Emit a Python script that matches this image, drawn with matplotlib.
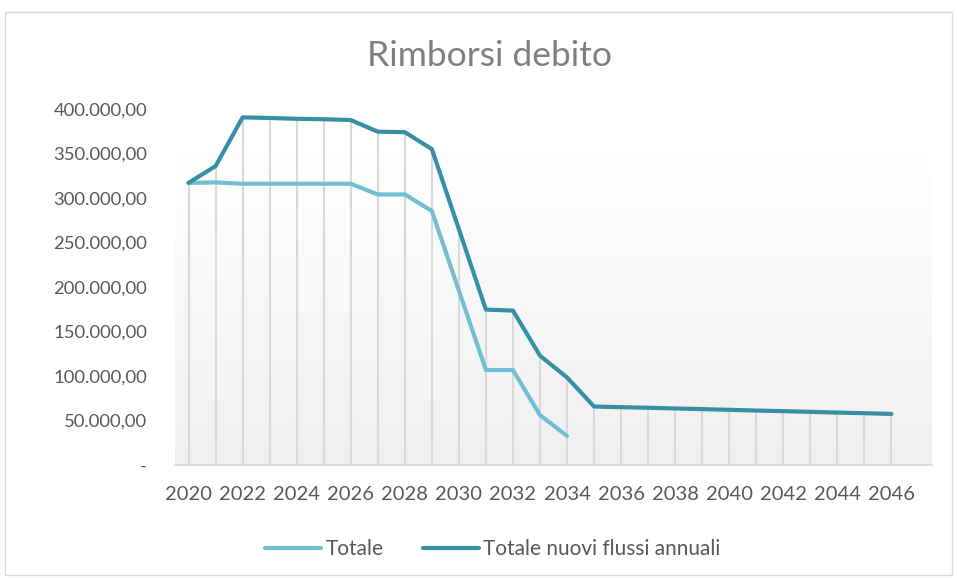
import numpy as np
import matplotlib
matplotlib.use("Agg")
import matplotlib.pyplot as plt
from matplotlib.ticker import FuncFormatter
from matplotlib.patches import Rectangle

# dati
anni = list(range(2020, 2047))
totale = [317000, 317500, 316000, 316000, 316000, 316000, 316000, 304000, 304000,
          285500, 196000, 106700, 106700, 56000, 32700]
nuovi_flussi = [317000, 335800, 390600, 389900, 389000, 388500, 387600, 374500, 374000,
                355000, 265000, 174600, 173500, 122800, 98400, 65700, 65000, 64300,
                63500, 62800, 62000, 61200, 60500, 59700, 58900, 58200, 57400]

col_totale = "#72BFD3"
col_nuovi = "#378FA6"
col_testo = "#595959"

plt.rcParams["font.family"] = ["Lato", "DejaVu Sans"]

fig = plt.figure(figsize=(9.57, 5.78), dpi=100)
fig.add_artist(Rectangle((5 / 957, 3 / 578), 947 / 957, 563 / 578, transform=fig.transFigure,
                         fill=False, edgecolor="#D9D9D9", linewidth=1))
ax = fig.add_axes([175 / 957, 1 - 465 / 578, 757 / 957, 356 / 578])

x_tot = anni[:len(totale)]
ax.set_xlim(2019.5, 2047.5)
ax.set_ylim(0, 400000)

# sfondo sfumato dell'area del grafico
grad = np.linspace(0, 1, 256).reshape(-1, 1)
ax.imshow(grad, cmap=matplotlib.colors.LinearSegmentedColormap.from_list("g", ["#F0F0F0", "#FFFFFF"]),
          extent=[2019.5, 2047.5, 0, 355000], origin="lower", aspect="auto", zorder=0)

# linee di proiezione
for i, a in enumerate(anni):
    top = max(nuovi_flussi[i], totale[i] if i < len(totale) else 0)
    ax.plot([a, a], [0, top], color="#D9D9D9", linewidth=1.5, zorder=1)

ax.plot(x_tot, totale, color=col_totale, linewidth=3, solid_capstyle="round",
        solid_joinstyle="round", label="Totale", zorder=3)
ax.plot(anni, nuovi_flussi, color=col_nuovi, linewidth=3, solid_capstyle="round",
        solid_joinstyle="round", label="Totale nuovi flussi annuali", zorder=4)


def fmt(v, pos):
    if v == 0:
        return "-"
    s = f"{v:,.2f}"
    return s.replace(",", "X").replace(".", ",").replace("X", ".")


ax.yaxis.set_major_formatter(FuncFormatter(fmt))
ax.set_yticks(np.arange(0, 400001, 50000))
ax.set_xticks(anni[::2])
ax.tick_params(axis="both", length=0, colors=col_testo)
ax.tick_params(axis="y", pad=20, labelsize=13.3)
ax.tick_params(axis="x", pad=15, labelsize=14.5)
for s in ["top", "right", "left"]:
    ax.spines[s].set_visible(False)
ax.spines["bottom"].set_color("#D9D9D9")
ax.spines["bottom"].set_linewidth(1.2)

fig.text(0.511, 1 - 56 / 578, "Rimborsi debito", ha="center", va="center",
         fontsize=25.5, color="#7F7F7F")

fig.legend(loc="center", bbox_to_anchor=(0.515, 1 - 549 / 578), ncol=2, frameon=False,
           fontsize=15, labelcolor=col_testo, handlelength=2.7, handletextpad=0.2,
           columnspacing=1.9)

fig.savefig("out.png", dpi=100)
